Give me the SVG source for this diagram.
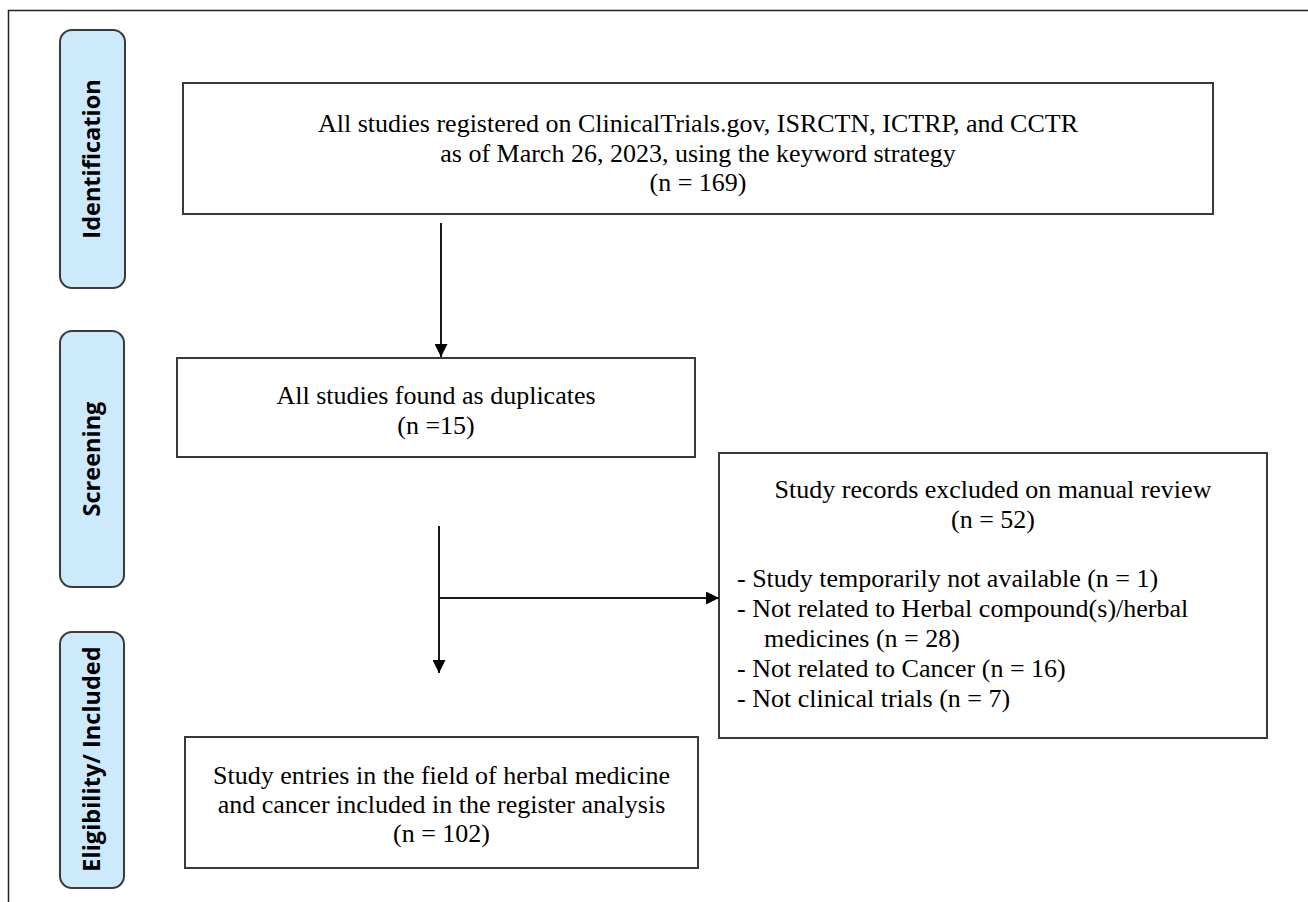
<svg xmlns="http://www.w3.org/2000/svg" width="1308" height="902" viewBox="0 0 1308 902">
<style>
.phase{fill:#cdeafc;stroke:#3a3a3a;stroke-width:2}
.phase-t{font-family:"Open Sans","DejaVu Sans",sans-serif;font-weight:bold;font-size:23.5px;fill:#000;text-anchor:middle}
.box{fill:#fff;stroke:#3a3a3a;stroke-width:2}
.t{font-family:"Liberation Serif","Times New Roman",serif;font-size:26px;fill:#000}
.c{text-anchor:middle}
.line{stroke:#1a1a1a;stroke-width:2;fill:none}
</style>
<defs>
<marker id="ah" markerWidth="13" markerHeight="13" refX="13" refY="6.5" orient="auto" markerUnits="userSpaceOnUse">
<path d="M0,0 L13,6.5 L0,13 Z" fill="#000"/>
</marker>
</defs>
<rect x="0" y="0" width="1308" height="902" fill="#fff"/>
<path d="M8.5,902 L8.5,10.5 L1308,10.5" fill="none" stroke="#222" stroke-width="1.5"/>

<g id="phase-identification">
<rect class="phase" x="60" y="30" width="65" height="258" rx="12"/>
<text class="phase-t" transform="translate(100,159) rotate(-90)">Identification</text>
</g>
<g id="phase-screening">
<rect class="phase" x="60" y="331" width="64" height="256" rx="12"/>
<text class="phase-t" transform="translate(100,459) rotate(-90)">Screening</text>
</g>
<g id="phase-eligibility">
<rect class="phase" x="60" y="632" width="64" height="256" rx="12"/>
<text class="phase-t" transform="translate(100,759) rotate(-90)">Eligibility/ Included</text>
</g>

<g id="node-all-studies">
<rect class="box" x="183" y="83" width="1030" height="131"/>
<text class="t c" x="698" y="132">All studies registered on ClinicalTrials.gov, ISRCTN, ICTRP, and CCTR</text>
<text class="t c" x="698" y="162">as of March 26, 2023, using the keyword strategy</text>
<text class="t c" x="698" y="191">(n = 169)</text>
</g>

<g id="node-duplicates">
<rect class="box" x="177" y="358" width="518" height="99"/>
<text class="t c" x="436" y="404">All studies found as duplicates</text>
<text class="t c" x="436" y="434">(n =15)</text>
</g>

<g id="node-excluded">
<rect class="box" x="719" y="453" width="548" height="285"/>
<text class="t c" x="993" y="498">Study records excluded on manual review</text>
<text class="t c" x="993" y="528">(n = 52)</text>
<text class="t" x="737" y="587">- Study temporarily not available (n = 1)</text>
<text class="t" x="737" y="617">- Not related to Herbal compound(s)/herbal</text>
<text class="t" x="764" y="647">medicines (n = 28)</text>
<text class="t" x="737" y="677">- Not related to Cancer (n = 16)</text>
<text class="t" x="737" y="707">- Not clinical trials (n = 7)</text>
</g>

<g id="node-included">
<rect class="box" x="185" y="737" width="513" height="131"/>
<text class="t c" x="441.5" y="784">Study entries in the field of herbal medicine</text>
<text class="t c" x="441.5" y="813">and cancer included in the register analysis</text>
<text class="t c" x="441.5" y="842">(n = 102)</text>
</g>

<g id="connectors">
<line class="line" x1="441" y1="223" x2="441" y2="357" marker-end="url(#ah)"/>
<line class="line" x1="439" y1="526" x2="439" y2="673" marker-end="url(#ah)"/>
<line class="line" x1="439" y1="598" x2="719" y2="598" marker-end="url(#ah)"/>
</g>
</svg>
